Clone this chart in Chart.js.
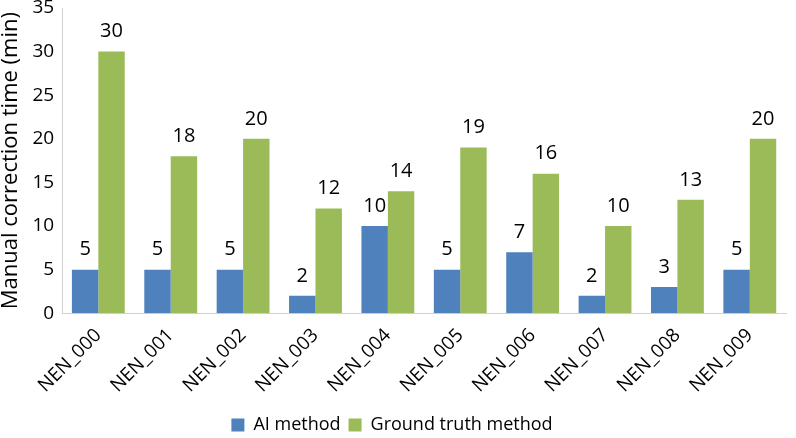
<!DOCTYPE html>
<html>
<head>
<meta charset="utf-8">
<script src="https://cdn.jsdelivr.net/npm/chart.js@4/dist/chart.umd.min.js"></script>
<style>
  html, body { margin: 0; padding: 0; background: #fff; }
  #wrap { width: 796px; height: 438px; }
</style>
</head>
<body>
<div id="wrap"><canvas id="chart" width="796" height="438"></canvas></div>
<script>
const cases = ['NEN_000', 'NEN_001', 'NEN_002', 'NEN_003', 'NEN_004', 'NEN_005', 'NEN_006', 'NEN_007', 'NEN_008', 'NEN_009'];
const aiMethod = [5, 5, 5, 2, 10, 5, 7, 2, 3, 5];
const groundTruth = [30, 18, 20, 12, 14, 19, 16, 10, 13, 20];

const valueLabels = {
    id: 'valueLabels',
    afterDatasetsDraw(chart) {
        const ctx = chart.ctx;
        ctx.save();
        ctx.font = '20px "Open Sans", sans-serif';
        ctx.fillStyle = '#000';
        ctx.textAlign = 'center';
        ctx.textBaseline = 'bottom';
        chart.data.datasets.forEach((ds, i) => {
            chart.getDatasetMeta(i).data.forEach((bar, j) => {
                ctx.fillText(ds.data[j], bar.x, bar.y - 10);
            });
        });
        ctx.restore();
    }
};

new Chart(document.getElementById('chart'), {
    type: 'bar',
    data: {
        labels: cases,
        datasets: [
            { label: 'AI method', data: aiMethod, backgroundColor: '#4f81bd' },
            { label: 'Ground truth method', data: groundTruth, backgroundColor: '#9bbb59' }
        ]
    },
    options: {
        responsive: false,
        animation: false,
        layout: { padding: { top: 8, right: 10, left: -2, bottom: -6 } },
        datasets: { bar: { barPercentage: 1, categoryPercentage: 0.73 } },
        plugins: {
            legend: {
                position: 'bottom',
                labels: {
                    font: { size: 18, family: '"Open Sans", sans-serif' },
                    color: '#000',
                    boxWidth: 13,
                    boxHeight: 13,
                    padding: 8
                }
            },
            tooltip: { enabled: false }
        },
        scales: {
            x: {
                grid: { display: false, drawTicks: false },
                border: { color: '#d0d0d0' },
                ticks: {
                    color: '#000',
                    font: { size: 19, family: '"Open Sans", sans-serif' },
                    maxRotation: 45,
                    minRotation: 45,
                    padding: 11
                }
            },
            y: {
                min: 0,
                max: 35,
                grid: { display: false, drawTicks: false },
                border: { color: '#d0d0d0' },
                ticks: {
                    stepSize: 5,
                    color: '#000',
                    font: { size: 19, family: '"Open Sans", sans-serif' },
                    padding: 8
                },
                title: {
                    display: true,
                    text: 'Manual correction time (min)',
                    color: '#000',
                    font: { size: 22, family: '"Open Sans", sans-serif' },
                    padding: 0
                },
                afterFit(scale) {
                    scale.paddingTop = 0;
                }
            }
        }
    },
    plugins: [valueLabels]
});
</script>
</body>
</html>
